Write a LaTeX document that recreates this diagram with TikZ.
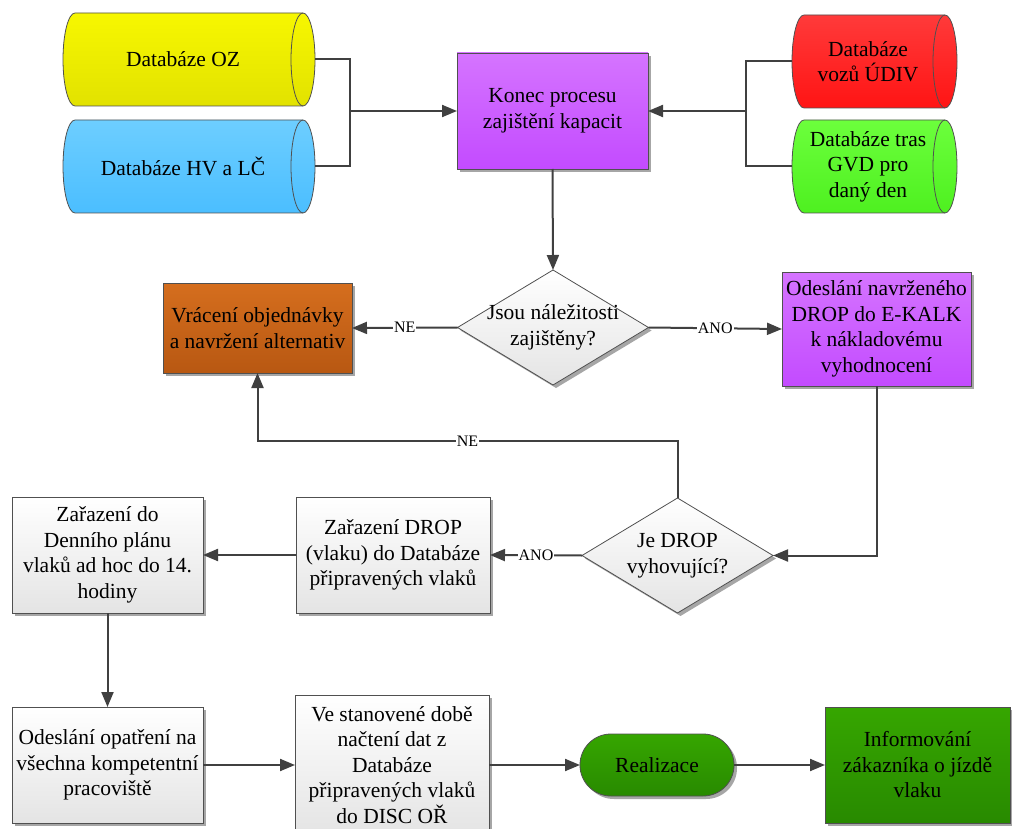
\documentclass[tikz,border=0pt]{standalone}
\usepackage{fontspec}
\setmainfont{LiberationSerif}[Extension=.ttf, UprightFont=*-Regular, BoldFont=*-Bold, ItalicFont=*-Italic, BoldItalicFont=*-BoldItalic]
\usetikzlibrary{shapes.geometric,shadows,arrows.meta,calc}

\definecolor{wire}{HTML}{404040}
\definecolor{rim}{HTML}{505050}
\definecolor{boxlow}{HTML}{E4E4E4}
\definecolor{ozTop}{HTML}{F7F700}
\definecolor{ozLow}{HTML}{E2E200}
\definecolor{hvTop}{HTML}{6DCEFF}
\definecolor{hvLow}{HTML}{4BBEFF}
\definecolor{udTop}{HTML}{FF3A3A}
\definecolor{udLow}{HTML}{FF1414}
\definecolor{gvTop}{HTML}{6CFF3C}
\definecolor{gvLow}{HTML}{4EF020}
\definecolor{puTop}{HTML}{D574FF}
\definecolor{puLow}{HTML}{C34BFF}
\definecolor{orTop}{HTML}{D56E1E}
\definecolor{orLow}{HTML}{B85812}
\definecolor{dgTop}{HTML}{36A600}
\definecolor{dgLow}{HTML}{288A00}

% horizontal database drum drawn around an (invisible) node
\newcommand\dbdrum[3]{%
  \shade[top color=#2, bottom color=#3, draw=rim, line width=0.8pt]
    ([xshift=12pt]#1.north west) -- ([xshift=-12pt]#1.north east)
    arc[start angle=-90, end angle=90, x radius=12, y radius=46.5]
    -- ([xshift=12pt]#1.south west)
    arc[start angle=90, end angle=270, x radius=12, y radius=46.5] -- cycle;
  \draw[draw=rim, line width=0.8pt] ([xshift=-12pt]#1.north east)
    arc[start angle=-90, end angle=-270, x radius=12, y radius=46.5];}

\begin{document}
\begin{tikzpicture}[x=1pt,y=-1pt,
  every node/.style={font=\fontsize{21.5}{25.5}\selectfont, align=center, text=black},
  shadowed/.style={drop shadow={shadow xshift=3pt, shadow yshift=-3pt, fill=black!35, opacity=1}},
  box/.style={draw=rim, line width=0.8pt, inner sep=0pt, outer sep=0pt, shadowed},
  wbox/.style={box, top color=white, bottom color=boxlow},
  decision/.style={diamond, box, top color=white, bottom color=boxlow,
    minimum width=191pt, minimum height=115pt},
  drum/.style={inner sep=0pt, outer sep=0pt, minimum height=93pt},
  conn/.style={draw=wire, line width=2pt},
  arr/.style={conn, -{Triangle[length=15pt,width=12pt]}},
  lbl/.style={fill=white, inner sep=1pt, font=\fontsize{16}{18}\selectfont}
]
\useasboundingbox (0,0) rectangle (1012,829);

% data sources
\node[drum, minimum width=252pt] (oz) at (189,59.5) {};
\node[drum, minimum width=252pt] (hv) at (189,166.5) {};
\node[drum, minimum width=165pt] (ud) at (874.5,61.5) {};
\node[drum, minimum width=165pt] (gv) at (874.5,166.5) {};
\dbdrum{oz}{ozTop}{ozLow}
\dbdrum{hv}{hvTop}{hvLow}
\dbdrum{ud}{udTop}{udLow}
\dbdrum{gv}{gvTop}{gvLow}
\node (ozt) at (183,59.5) {Databáze OZ};
\node (hvt) at (183,166.5) {Databáze HV a LČ};
\node (udt) at (868,61.5) {Databáze\\vozů ÚDIV};
\node (gvt) at (868,166.5) {Databáze tras\\GVD pro\\daný den};

% process steps
\node[box, top color=puTop, bottom color=puLow, minimum width=191pt, minimum height=116pt]
  (konec) at (552.5,111) {Konec procesu\\zajištění kapacit};
\node[decision] (d1) at (553,327.5) {};
\node (d1t) at (553,327.5) {Jsou náležitosti\\zajištěny?};
\node[box, top color=orTop, bottom color=orLow, minimum width=189pt, minimum height=90pt]
  (vrac) at (257.5,328) {Vrácení objednávky\\a navržení alternativ};
\node[box, top color=puTop, bottom color=puLow, minimum width=189pt, minimum height=114pt]
  (kalk) at (876.5,329) {Odeslání navrženého\\DROP do E-KALK\\k nákladovému\\vyhodnocení};
\node[decision] (d2) at (677.5,555.5) {};
\node (d2t) at (677.5,555.5) {Je DROP\\vyhovující?};
\node[wbox, minimum width=194pt, minimum height=116pt]
  (zdrop) at (393,555) {Zařazení DROP\\(vlaku) do Databáze\\připravených vlaků};
\node[wbox, minimum width=191pt, minimum height=116pt]
  (plan) at (107.5,555) {Zařazení do\\Denního plánu\\vlaků ad hoc do 14.\\hodiny};
\node[wbox, minimum width=191pt, minimum height=116pt]
  (opat) at (107.5,765) {Odeslání opatření na\\všechna kompetentní\\pracoviště};
\node[wbox, minimum width=194pt, minimum height=140pt]
  (disc) at (392,765) {Ve stanovené době\\načtení dat z\\Databáze\\připravených vlaků\\do DISC OŘ};
\node[box, top color=dgTop, bottom color=dgLow, minimum width=154pt, minimum height=62pt,
  rounded corners=30.9pt] (real) at (657,765) {Realizace};
\node[box, top color=dgTop, bottom color=dgLow, minimum width=185pt, minimum height=116pt]
  (info) at (917.5,765) {Informování\\zákazníka o jízdě\\vlaku};

% junctions and the return row
\coordinate (jl) at (350,111);
\coordinate (jr) at (746,111);
\coordinate (backrow) at (0,441);

% connectors
\draw[conn] (oz.east) -| (jl);
\draw[conn] (hv.east) -| (jl);
\draw[arr] (jl) -- (konec.west);
\draw[conn] (ud.west) -| (jr);
\draw[conn] (gv.west) -| (jr);
\draw[arr] (jr) -- (konec.east);
\draw[arr] (konec.south) -- (d1.north);
\draw[arr] (d1.west) -- node[lbl] {NE} (vrac.east);
\draw[arr] (d1.east) -- node[lbl] {ANO} (kalk.west);
\draw[arr] (kalk.south) |- (d2.east);
\draw[arr] (d2.north) -- (d2.north |- backrow) -- node[lbl] {NE} (vrac.south |- backrow) -- (vrac.south);
\draw[arr] (d2.west) -- node[lbl] {ANO} (zdrop.east);
\draw[arr] (zdrop.west) -- (plan.east);
\draw[arr] (plan.south) -- (opat.north);
\draw[arr] (opat.east) -- (disc.west);
\draw[arr] (disc.east) -- (real.west);
\draw[arr] (real.east) -- (info.west);
\end{tikzpicture}
\end{document}
